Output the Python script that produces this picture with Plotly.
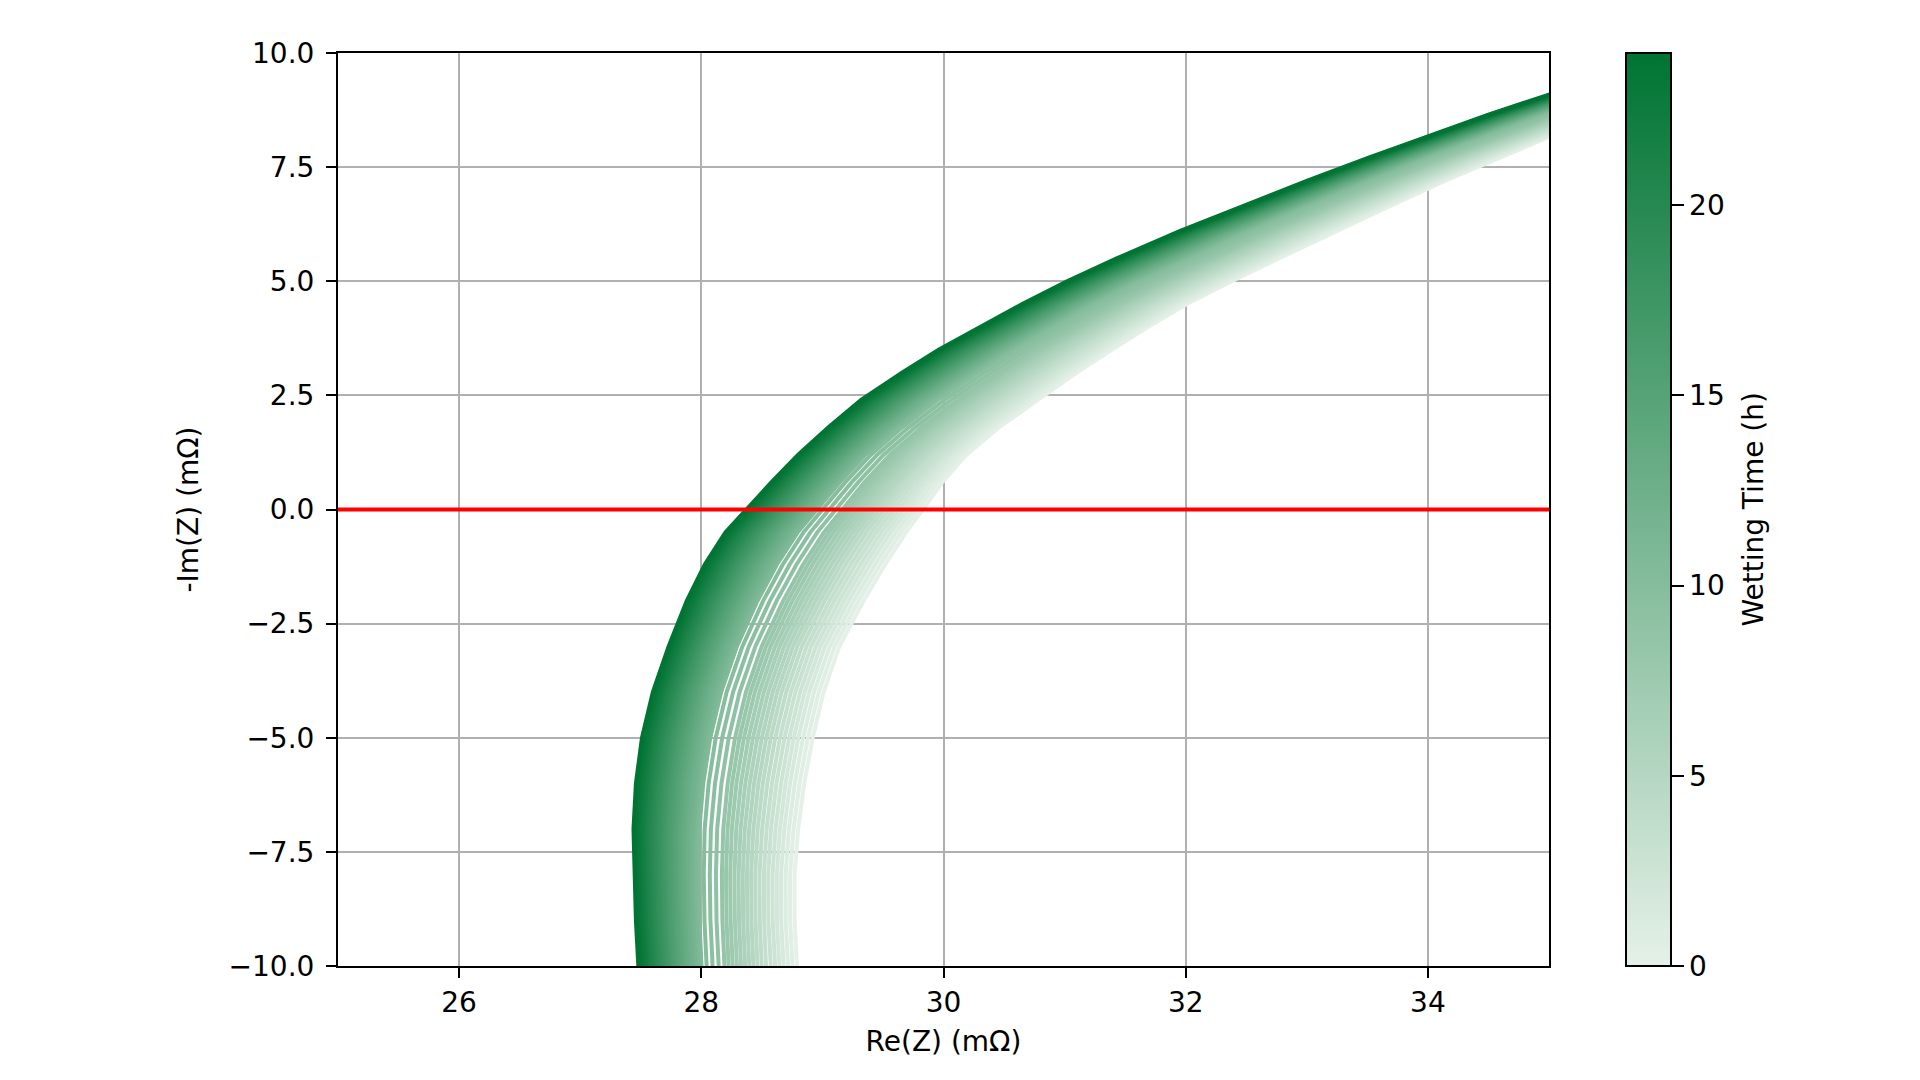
import plotly.graph_objects as go

# -Im(Z) levels (mΩ) at which the impedance curves are sampled
im_levels = [-11.0, -10.0, -9.0, -8.0, -7.0, -6.0, -5.0, -4.0, -3.0, -2.0, -1.2, -0.5, 0.0,
             0.6, 1.2, 1.8, 2.4, 3.0, 3.5, 4.0, 4.5, 5.0, 5.5, 6.1, 6.6, 7.2, 7.7, 8.2, 8.65, 9.09, 9.95]
# Re(Z) of the fully wetted cell (24 h, darkest curve)
re_wet = [27.50, 27.48, 27.46, 27.45, 27.44, 27.46, 27.51, 27.60, 27.73, 27.88, 28.03, 28.20, 28.37,
          28.58, 28.80, 29.05, 29.32, 29.66, 29.96, 30.30, 30.65, 31.02, 31.43, 31.95, 32.42, 33.00,
          33.50, 34.02, 34.50, 35.00, 36.00]
# Re(Z) of the dry cell (0 h, lightest curve)
re_dry = [28.80, 28.79, 28.77, 28.77, 28.80, 28.85, 28.92, 29.01, 29.14, 29.34, 29.52, 29.69, 29.83,
          29.99, 30.19, 30.46, 30.78, 31.10, 31.39, 31.69, 32.01, 32.38, 32.77, 33.24, 33.65, 34.14,
          34.58, 35.04, 35.48, 35.93, 36.78]

# wetting times (h) and the Re(Z) where each spectrum crosses -Im(Z)=0
wetting_time = [0.0, 0.5, 1.0, 1.5, 2.0, 2.5, 3.0, 3.5, 4.0, 4.5, 5.0, 5.5, 6.0, 6.5, 7.0, 7.5,
                8.0, 8.5, 9.0, 9.5, 10.0, 10.5, 11.0, 11.5, 12.0, 12.5, 13.0, 13.5, 14.0, 14.5,
                15.0, 15.5, 16.0, 16.5, 17.0, 17.5, 18.0, 18.5, 19.0, 19.5, 20.0, 20.5, 21.0,
                21.5, 22.0, 22.5, 23.0, 23.5, 24.0]
re_at_zero = [29.830, 29.789, 29.748, 29.707, 29.668, 29.629, 29.589, 29.550, 29.510, 29.471,
              29.433, 29.395, 29.357, 29.319, 29.281, 29.242, 29.204, 29.166, 29.112, 29.056,
              29.001, 28.954, 28.925, 28.899, 28.874, 28.849, 28.824, 28.801, 28.777, 28.754,
              28.731, 28.709, 28.687, 28.665, 28.643, 28.621, 28.601, 28.580, 28.560, 28.539,
              28.519, 28.500, 28.481, 28.462, 28.443, 28.424, 28.407, 28.388, 28.370]

t_max = 24.0
c_lo = (229, 241, 232)
c_hi = (0, 116, 51)
colorscale = [[0, "rgb(229,241,232)"], [1, "rgb(0,116,51)"]]


def cmap(t):
    f = t / t_max
    r, g, b = (round(a + (b_ - a) * f) for a, b_ in zip(c_lo, c_hi))
    return f"rgb({r},{g},{b})"


fig = go.Figure()
zi = im_levels.index(0.0)
for t, r0 in zip(wetting_time, re_at_zero):
    frac = (r0 - re_wet[zi]) / (re_dry[zi] - re_wet[zi])
    xs = [w + (d - w) * frac for w, d in zip(re_wet, re_dry)]
    fig.add_trace(go.Scatter(x=xs, y=im_levels, mode="lines",
                             line=dict(color=cmap(t), width=4),
                             showlegend=False, hoverinfo="skip"))

fig.add_hline(y=0, line_color="red", line_width=4)

FONT = "DejaVu Sans"
fig.add_trace(go.Scatter(
    x=[None], y=[None], mode="markers", showlegend=False, hoverinfo="skip",
    marker=dict(color=[0], cmin=0, cmax=t_max, colorscale=colorscale, showscale=True,
                colorbar=dict(
                    thickness=45, thicknessmode="pixels", len=1, lenmode="fraction",
                    y=0, yanchor="bottom", x=1.0636, xanchor="left", xpad=0, ypad=0,
                    outlinewidth=2, outlinecolor="black",
                    ticks="outside", ticklen=12, tickwidth=2, tickcolor="black",
                    tickvals=[0, 5, 10, 15, 20],
                    tickfont=dict(family=FONT, size=28, color="black"),
                )),
))

fig.add_annotation(text="Wetting Time (h)", xref="paper", yref="paper", x=1.1685, y=0.5,
                   xanchor="center", yanchor="middle", textangle=-90, showarrow=False,
                   font=dict(family=FONT, size=28, color="black"))

axis_common = dict(showgrid=True, gridcolor="#b0b0b0", gridwidth=2,
                   showline=True, mirror=True, linecolor="black", linewidth=2,
                   ticks="outside", ticklen=10, tickwidth=2, tickcolor="black",
                   zeroline=False, tickfont=dict(family=FONT, size=28, color="black"))

fig.update_xaxes(range=[25, 35], tickvals=[26, 28, 30, 32, 34], ticklabelstandoff=0,
                 title=dict(text="Re(Z) (mΩ)", font=dict(family=FONT, size=28, color="black"), standoff=14),
                 **axis_common)
fig.update_yaxes(range=[-10, 10], tickvals=[-10, -7.5, -5, -2.5, 0, 2.5, 5, 7.5, 10], tickformat=".1f",
                 ticklabelstandoff=6,
                 title=dict(text="-Im(Z) (mΩ)", font=dict(family=FONT, size=28, color="black"), standoff=22),
                 **axis_common)

fig.update_layout(
    width=1920, height=1080,
    margin=dict(l=330, r=379, t=45, b=122, autoexpand=False),
    plot_bgcolor="white", paper_bgcolor="white",
    font=dict(family=FONT, size=28, color="black"),
    showlegend=False,
)

fig.write_html("out.html")
